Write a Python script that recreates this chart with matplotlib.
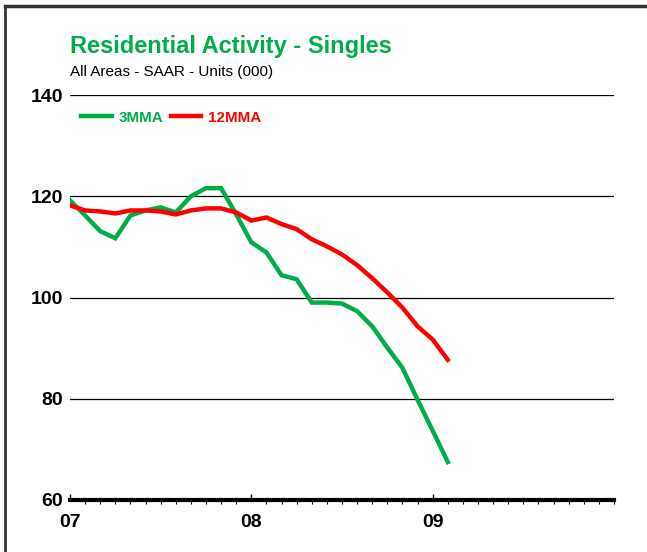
import matplotlib.pyplot as plt
from matplotlib.lines import Line2D

# months since Jan 2007
months = list(range(26))
mma3 = [119.2, 116.2, 113.1, 111.7, 116.2, 117.2, 117.8, 116.8, 120.0, 121.6, 121.6, 116.4,
        110.9, 108.9, 104.4, 103.6, 99.0, 99.0, 98.8, 97.3, 94.3, 90.1, 86.1, 79.8, 73.7, 67.5]
mma12 = [118.2, 117.2, 117.0, 116.6, 117.2, 117.2, 117.0, 116.4, 117.2, 117.6, 117.6, 116.8,
         115.2, 115.8, 114.5, 113.5, 111.5, 110.1, 108.5, 106.4, 103.8, 101.0, 98.0, 94.3, 91.7, 87.7]
year_ticks = [0, 12, 24]
year_labels = ['07', '08', '09']
y_ticks = [60, 80, 100, 120, 140]

GREEN = '#00AD48'
RED = '#FF0000'

plt.rcParams['font.family'] = ['Liberation Sans', 'DejaVu Sans']

fig = plt.figure(figsize=(6.47, 5.52), dpi=100)
ax = fig.add_axes([70 / 647, 1 - 500 / 552, 544 / 647, 405 / 552])

ax.plot(months, mma3, color=GREEN, lw=3.2, solid_joinstyle='miter', zorder=3)
ax.plot(months, mma12, color=RED, lw=3.2, solid_joinstyle='miter', zorder=3)

ax.set_xlim(0, 36)
ax.set_ylim(60, 140)
for y in y_ticks[1:]:
    ax.axhline(y, color='black', lw=0.9, zorder=1)

for s in ['left', 'right', 'top']:
    ax.spines[s].set_visible(False)
ax.spines['bottom'].set_linewidth(3)
ax.spines['bottom'].set_zorder(4)

ax.set_xticks(year_ticks)
ax.set_xticklabels(year_labels, fontsize=14, fontweight='bold')
ax.set_xticks(range(37), minor=True)
ax.tick_params(axis='x', which='major', direction='in', length=4, width=1, pad=10)
ax.tick_params(axis='x', which='minor', direction='out', length=3, width=0.8)
ax.set_yticks(y_ticks)
ax.set_yticklabels([str(v) for v in y_ticks], fontsize=14, fontweight='bold')
ax.tick_params(axis='y', length=0, pad=5)

handles = [Line2D([], [], color=GREEN, lw=3.2), Line2D([], [], color=RED, lw=3.2)]
leg = ax.legend(handles, ['3MMA', '12MMA'], loc='upper left', bbox_to_anchor=(-0.005, 0.995),
                ncol=2, frameon=False, handlelength=2.0, handletextpad=0.45, columnspacing=0.5,
                prop={'size': 11, 'weight': 'bold'}, labelcolor='linecolor')

fig.text(70 / 647, 1 - 46 / 552, 'Residential Activity - Singles', color=GREEN,
         fontsize=17, fontweight='bold', va='center', ha='left')
fig.text(70 / 647, 1 - 72 / 552, 'All Areas - SAAR - Units (000)', color='black',
         fontsize=11, va='center', ha='left')

# outer frame (left and top only)
fig.add_artist(Line2D([5 / 647, 5 / 647], [0, 1 - 6 / 552], color='#333333', lw=2,
                      transform=fig.transFigure))
fig.add_artist(Line2D([5 / 647, 1], [1 - 6 / 552, 1 - 6 / 552], color='#333333', lw=2.5,
                      transform=fig.transFigure))

fig.savefig('out.png', dpi=100)
